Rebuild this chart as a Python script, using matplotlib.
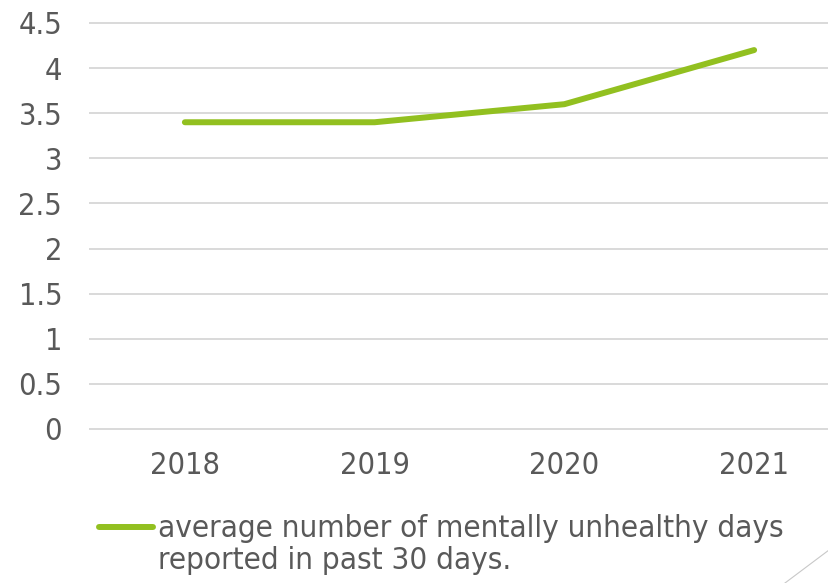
import matplotlib
matplotlib.use("Agg")
import matplotlib.pyplot as plt
from matplotlib.lines import Line2D
from matplotlib.legend_handler import HandlerLine2D

years = ["2018", "2019", "2020", "2021"]
values = [3.4, 3.4, 3.6, 4.2]
yticks = [0, 0.5, 1, 1.5, 2, 2.5, 3, 3.5, 4, 4.5]
ytick_labels = ["0", "0.5", "1", "1.5", "2", "2.5", "3", "3.5", "4", "4.5"]
series_label = "average number of mentally unhealthy days\nreported in past 30 days."

GREEN = "#92C020"
TEXT = "#595959"
GRID = "#D9D9D9"

plt.rcParams['font.family'] = ['DejaVu Sans']


class RaisedLineHandler(HandlerLine2D):
    def __init__(self, shift=0, **kw):
        super().__init__(**kw)
        self.shift = shift

    def create_artists(self, legend, orig_handle, xdescent, ydescent,
                       width, height, fontsize, trans):
        arts = super().create_artists(legend, orig_handle, xdescent, ydescent,
                                      width, height, fontsize, trans)
        for a in arts:
            yd = a.get_ydata()
            a.set_ydata([v + self.shift for v in yd])
            a.set_solid_capstyle('round')
        return arts


fig = plt.figure(figsize=(8.29, 5.83), dpi=100)
ax = fig.add_axes([90/829, 1-429/583, 759/829, 406/583])

x = list(range(len(years)))
line, = ax.plot(x, values, color=GREEN, lw=4.3, solid_capstyle='round', label=series_label, zorder=3)

ax.set_xlim(-0.5, len(years) - 0.5)
ax.set_ylim(0, 4.5)
ax.set_yticks(yticks)
ax.set_yticklabels(ytick_labels)
ax.set_xticks(x)
ax.set_xticklabels(years)
ax.yaxis.grid(True, color=GRID, lw=1.4)
for g in ax.get_ygridlines():
    g.set_clip_on(False)
ax.set_axisbelow(True)
for s in ax.spines.values():
    s.set_visible(False)
ax.tick_params(axis='both', length=0, labelsize=22, colors=TEXT, labelcolor=TEXT)
ax.tick_params(axis='y', pad=20)
ax.tick_params(axis='x', pad=16)
for t in ax.get_xticklabels() + ax.get_yticklabels():
    t.set_fontstretch('condensed')

leg = fig.legend(handles=[line], loc='upper left', bbox_to_anchor=(99/829, 1-514/583),
                 frameon=False, fontsize=22.5, handlelength=1.72, handletextpad=0.17,
                 labelcolor=TEXT, borderaxespad=0, borderpad=0,
                 handler_map={Line2D: RaisedLineHandler(shift=13)})
for t in leg.get_texts():
    t.set_fontstretch('condensed')
    t.set_linespacing(1.15)

# decorative diagonal line at bottom right
fig.add_artist(Line2D([785/829, 1.0], [0, 1-550/583], transform=fig.transFigure,
                      color="#C8C8C8", lw=0.8))

fig.savefig("out.png", dpi=100)
